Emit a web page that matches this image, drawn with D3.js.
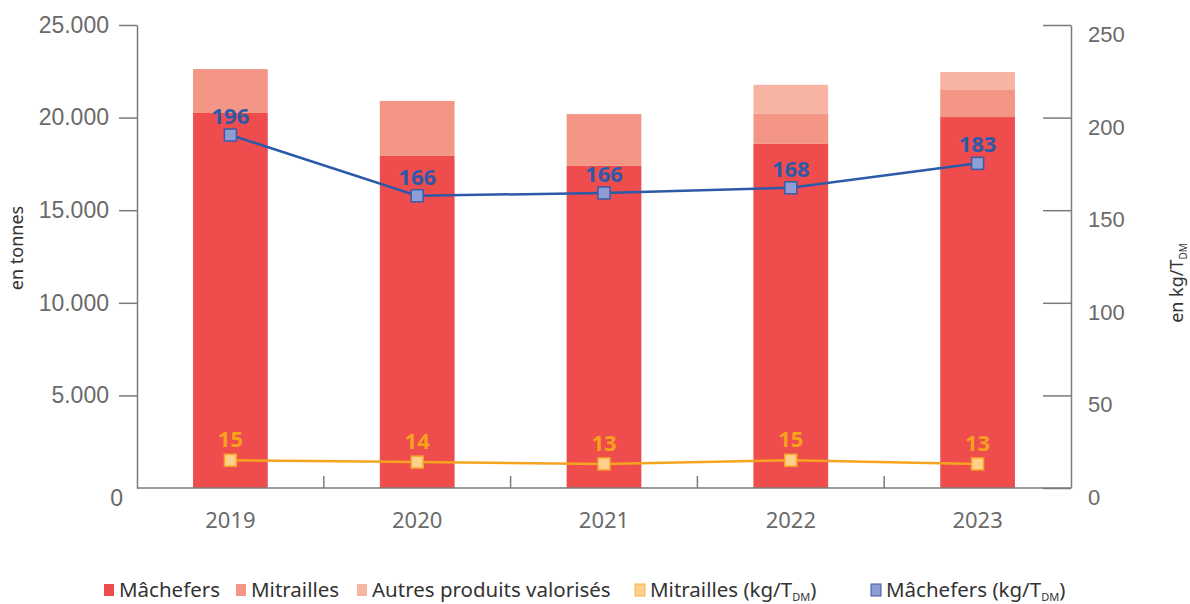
<!DOCTYPE html>
<html>
<head>
<meta charset="utf-8">
<script src="https://cdn.jsdelivr.net/npm/d3@7"></script>
<style>
  body { margin: 0; background: #fff; }
  svg { font-family: 'Noto Sans', 'Open Sans', sans-serif; display: block; }
</style>
</head>
<body>
<div class="chart"></div>
<script>
const width = 1190
const height = 604

// Data
const years = ['2019', '2020', '2021', '2022', '2023']
const machefers = [20250, 17930, 17390, 18580, 20030]
const mitrailles = [2370, 2970, 2800, 1620, 1460]
const autres = [0, 0, 0, 1570, 970]
const mitraillesKg = [15, 14, 13, 15, 13]
// blue markers sit a bit lower than their printed value in the source chart
const machefersKgPlot = [190.6, 157.8, 159.3, 162.1, 175.3]
const machefersKgLabel = [196, 166, 166, 168, 183]
const leftTicks = [0, 5000, 10000, 15000, 20000, 25000]
const rightTicks = [0, 50, 100, 150, 200, 250]

const colors = {
  machefers: '#ef4c4e',
  mitrailles: '#f49685',
  autres: '#f7b4a3',
  blue: '#2c5aa8',
  blueFill: '#8e9ed2',
  orange: '#f6a41f',
  orangeFill: '#fed08b',
  axis: '#7b7b7b',
  tick: '#6a6a6a'
}

const fr = d3.formatLocale({ decimal: ',', thousands: '.', grouping: [3], currency: ['', ' €'] })
const fmt = fr.format(',')

const plotLeft = 137
const plotRight = 1071
const plotTop = 25
const plotBottom = 488

const svg = d3
  .select('.chart')
  .append('svg')
  .attr('width', width)
  .attr('height', height)

const xScale = d3.scaleBand().domain(years).range([plotLeft, plotRight]).paddingInner(0.6).paddingOuter(0.3)
const yLeft = d3.scaleLinear().domain([0, 25000]).range([plotBottom, plotTop])
const yRight = d3.scaleLinear().domain([0, 250]).range([plotBottom, plotTop])

// Stacked bars
const rows = years.map((y, i) => ({ year: y, machefers: machefers[i], mitrailles: mitrailles[i], autres: autres[i] }))
const stack = d3.stack().keys(['machefers', 'mitrailles', 'autres'])(rows)

svg
  .append('g')
  .selectAll('g')
  .data(stack)
  .join('g')
  .attr('fill', d => colors[d.key])
  .selectAll('rect')
  .data(d => d)
  .join('rect')
  .attr('x', d => xScale(d.data.year))
  .attr('width', xScale.bandwidth())
  .attr('y', d => yLeft(d[1]))
  .attr('height', d => yLeft(d[0]) - yLeft(d[1]))

// Left axis
const leftAxis = svg
  .append('g')
  .attr('transform', 'translate(' + plotLeft + ',0)')
  .call(d3.axisLeft(yLeft).tickValues(leftTicks).tickFormat(fmt).tickSize(18).tickSizeOuter(0).tickPadding(10))
leftAxis.select('.domain').attr('stroke', colors.axis).attr('stroke-width', 1.5)
leftAxis.selectAll('.tick line').attr('stroke', colors.axis).attr('stroke-width', 1.5)
leftAxis.selectAll('.tick text').attr('fill', colors.tick).attr('font-size', 23)
leftAxis.selectAll('.tick').filter(d => d === 0).select('line').remove()
leftAxis.selectAll('.tick').filter(d => d === 0).select('text').attr('x', -14).attr('dy', '0.75em')

// Right axis
const rightAxis = svg
  .append('g')
  .attr('transform', 'translate(' + plotRight + ',0)')
  .call(d3.axisRight(yRight).tickValues(rightTicks).tickSize(-28).tickSizeOuter(0).tickPadding(17))
rightAxis.select('.domain').attr('stroke', colors.axis).attr('stroke-width', 1.5)
rightAxis.selectAll('.tick line').attr('stroke', colors.axis).attr('stroke-width', 1.5)
rightAxis.selectAll('.tick text').attr('fill', colors.tick).attr('font-size', 22).attr('dy', '0.75em')

// X axis
const step = xScale.step()
const gap = step - xScale.bandwidth()
svg
  .append('line')
  .attr('x1', plotLeft)
  .attr('x2', plotRight)
  .attr('y1', plotBottom)
  .attr('y2', plotBottom)
  .attr('stroke', colors.axis)
  .attr('stroke-width', 1.5)

svg
  .append('g')
  .selectAll('line')
  .data(years.slice(1))
  .join('line')
  .attr('x1', d => xScale(d) - gap / 2)
  .attr('x2', d => xScale(d) - gap / 2)
  .attr('y1', plotBottom)
  .attr('y2', plotBottom - 12)
  .attr('stroke', colors.axis)
  .attr('stroke-width', 1.5)

svg
  .append('g')
  .selectAll('text')
  .data(years)
  .join('text')
  .attr('x', d => xScale(d) + xScale.bandwidth() / 2)
  .attr('y', 528)
  .attr('text-anchor', 'middle')
  .attr('fill', colors.tick)
  .attr('font-size', 22)
  .text(d => d)

// Axis titles
svg
  .append('text')
  .attr('transform', 'translate(23,248) rotate(-90)')
  .attr('text-anchor', 'middle')
  .attr('fill', '#333')
  .attr('font-size', 18)
  .text('en tonnes')

const rt = svg
  .append('text')
  .attr('transform', 'translate(1183,283) rotate(-90)')
  .attr('text-anchor', 'middle')
  .attr('fill', '#333')
  .attr('font-size', 18)
rt.append('tspan').text('en kg/T')
rt.append('tspan').attr('font-size', 10).attr('dy', 4).text('DM')

// Lines
const cx = d => xScale(d) + xScale.bandwidth() / 2

function drawSeries(values, labels, lineColor, fill, stroke, labelColor, labelOffset) {
  const pts = years.map((y, i) => [cx(y), yRight(values[i])])
  svg
    .append('path')
    .attr('d', d3.line()(pts))
    .attr('fill', 'none')
    .attr('stroke', lineColor)
    .attr('stroke-width', 2.5)
  svg
    .append('g')
    .selectAll('rect')
    .data(pts)
    .join('rect')
    .attr('x', d => d[0] - 6)
    .attr('y', d => d[1] - 6)
    .attr('width', 12)
    .attr('height', 12)
    .attr('fill', fill)
    .attr('stroke', stroke)
    .attr('stroke-width', 1.5)
  svg
    .append('g')
    .selectAll('text')
    .data(pts)
    .join('text')
    .attr('x', d => d[0])
    .attr('y', d => d[1] - labelOffset)
    .attr('text-anchor', 'middle')
    .attr('fill', labelColor)
    .attr('font-size', 22)
    .attr('font-weight', 'bold')
    .text((d, i) => labels[i])
}

drawSeries(mitraillesKg, mitraillesKg, colors.orange, colors.orangeFill, '#f5a623', '#f7a21b', 13)
drawSeries(machefersKgPlot, machefersKgLabel, colors.blue, colors.blueFill, '#3b5ba8', colors.blue, 11)

// Legend
const legendItems = [
  { label: 'Mâchefers', sub: '', fill: colors.machefers, stroke: 'none', x: 104 },
  { label: 'Mitrailles', sub: '', fill: colors.mitrailles, stroke: 'none', x: 236 },
  { label: 'Autres produits valorisés', sub: '', fill: colors.autres, stroke: 'none', x: 357 },
  { label: 'Mitrailles (kg/T', sub: 'DM', fill: colors.orangeFill, stroke: '#f5b04a', x: 635 },
  { label: 'Mâchefers (kg/T', sub: 'DM', fill: colors.blueFill, stroke: '#3b5ba8', x: 871 }
]

const legend = svg.append('g').attr('id', 'legend')
const item = legend
  .selectAll('g')
  .data(legendItems)
  .join('g')
  .attr('transform', d => 'translate(' + d.x + ',590)')

item
  .append('rect')
  .attr('x', 0)
  .attr('y', -6)
  .attr('width', 10)
  .attr('height', 12)
  .attr('fill', d => d.fill)
  .attr('stroke', d => d.stroke)
  .attr('stroke-width', 1)

const lt = item
  .append('text')
  .attr('x', 15)
  .attr('y', 7)
  .attr('fill', '#333')
  .attr('font-size', 20.5)
lt.append('tspan').text(d => d.label)
lt.filter(d => d.sub)
  .append('tspan')
  .attr('font-size', 11)
  .attr('dy', 4)
  .text(d => d.sub)
lt.filter(d => d.sub)
  .append('tspan')
  .attr('dy', -4)
  .text(')')
</script>
</body>
</html>
